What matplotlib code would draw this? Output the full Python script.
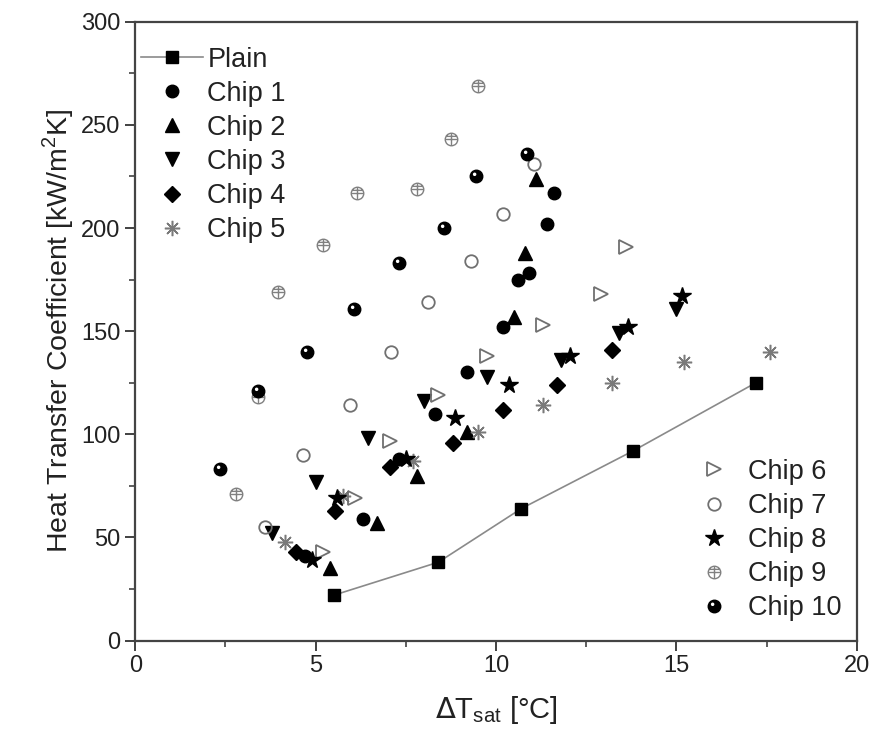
import matplotlib.pyplot as plt
import numpy as np
from matplotlib.path import Path
from matplotlib.legend_handler import HandlerTuple

plt.rcParams['font.family'] = ['Liberation Sans', 'DejaVu Sans']

# data (dT_sat in degC, h in kW/m2K)
plain_x = [5.5, 8.4, 10.7, 13.8, 17.2]
plain_y = [22, 38, 64, 92, 125]

chip1_x = [4.7, 6.3, 7.3, 8.3, 9.2, 10.2, 10.6, 10.9, 11.4, 11.6]
chip1_y = [41, 59, 88, 110, 130, 152, 175, 178, 202, 217]
chip2_x = [5.4, 6.7, 7.8, 9.2, 10.5, 10.8, 11.1]
chip2_y = [35, 57, 80, 101, 157, 188, 224]
chip3_x = [3.8, 5.0, 6.45, 8.0, 9.75, 11.8, 13.4, 15.0]
chip3_y = [52, 77, 98, 116, 128, 136, 149, 161]
chip4_x = [4.45, 5.55, 7.05, 8.8, 10.2, 11.7, 13.2]
chip4_y = [43, 63, 84, 96, 112, 124, 141]
chip5_x = [4.15, 5.75, 7.7, 9.5, 11.3, 13.2, 15.2, 17.6]
chip5_y = [48, 70, 87, 101, 114, 125, 135, 140]
chip6_x = [5.2, 6.1, 7.05, 8.4, 9.75, 11.3, 12.9, 13.6]
chip6_y = [43, 69, 97, 119, 138, 153, 168, 191]
chip7_x = [3.6, 4.65, 5.95, 7.1, 8.1, 9.3, 10.2, 11.05]
chip7_y = [55, 90, 114, 140, 164, 184, 207, 231]
chip8_x = [4.9, 5.6, 7.5, 8.85, 10.35, 12.05, 13.65, 15.15]
chip8_y = [39, 69, 88, 108, 124, 138, 152, 167]
chip9_x = [2.8, 3.4, 3.95, 5.2, 6.15, 7.8, 8.75, 9.5]
chip9_y = [71, 118, 169, 192, 217, 219, 243, 269]
chip10_x = [2.35, 3.4, 4.75, 6.05, 7.3, 8.55, 9.45, 10.85]
chip10_y = [83, 121, 140, 161, 183, 200, 225, 236]

# circle with cross, for chip 9
circ = Path.unit_circle()
cross = Path([(-1, 0), (1, 0), (0, -1), (0, 1), (-0.85, 0.5), (0.85, 0.5)],
             [Path.MOVETO, Path.LINETO, Path.MOVETO, Path.LINETO, Path.MOVETO, Path.LINETO])
globe = Path.make_compound_path(circ, cross)

# small off-centre highlight for chip 10
hl = Path.unit_circle()
hl = Path(hl.vertices * 0.28 + np.array([-0.3, 0.35]), hl.codes)
corner = Path([(-1, -1), (1, 1)], [Path.MOVETO, Path.MOVETO])
highlight = Path.make_compound_path(corner, hl)

fig, ax = plt.subplots(figsize=(8.78, 7.51), dpi=100)
fig.subplots_adjust(left=0.154, right=0.976, bottom=0.147, top=0.971)

ms = 9
p0, = ax.plot(plain_x, plain_y, color='#8a8a8a', lw=1.2, marker='s', ms=ms,
              mfc='black', mec='black', label='Plain')
h1, = ax.plot(chip1_x, chip1_y, ls='none', marker='o', ms=ms, color='black', label='Chip 1')
h2, = ax.plot(chip2_x, chip2_y, ls='none', marker='^', ms=ms + 1, color='black', label='Chip 2')
h3, = ax.plot(chip3_x, chip3_y, ls='none', marker='v', ms=ms + 1, color='black', label='Chip 3')
h4, = ax.plot(chip4_x, chip4_y, ls='none', marker='D', ms=ms - 1, color='black', label='Chip 4')
h5, = ax.plot(chip5_x, chip5_y, ls='none', marker=(8, 2, 0), ms=ms + 2, mew=1.1,
              color='#7a7a7a', label='Chip 5')
h6, = ax.plot(chip6_x, chip6_y, ls='none', marker='>', ms=ms + 1, mfc='none',
              mec='#707070', mew=1.3, label='Chip 6')
h7, = ax.plot(chip7_x, chip7_y, ls='none', marker='o', ms=ms, mfc='none',
              mec='#707070', mew=1.3, label='Chip 7')
h8, = ax.plot(chip8_x, chip8_y, ls='none', marker='*', ms=ms + 4, color='black', label='Chip 8')
h9, = ax.plot(chip9_x, chip9_y, ls='none', marker=globe, ms=ms, mfc='none',
              mec='#808080', mew=1.0, label='Chip 9')
h10, = ax.plot(chip10_x, chip10_y, ls='none', marker='o', ms=ms, color='black', label='Chip 10')
h10b, = ax.plot(chip10_x, chip10_y, ls='none', marker=highlight, ms=ms, mfc='white',
                mec='none', label='_nolegend_')

ax.set_xlim(0, 20)
ax.set_ylim(0, 300)
ax.set_xticks([0, 5, 10, 15, 20])
ax.set_yticks([0, 50, 100, 150, 200, 250, 300])
ax.set_xticks(np.arange(2.5, 20, 5), minor=True)
ax.set_yticks(np.arange(25, 300, 50), minor=True)
ax.tick_params(which='major', direction='out', length=7, width=1.3, labelsize=17,
               colors='#333333', labelcolor='#222222')
ax.tick_params(which='minor', direction='out', length=4, width=1.1, colors='#333333')
for s in ax.spines.values():
    s.set_linewidth(1.6)
    s.set_color('#444444')

ax.set_xlabel(r'$\Delta$T$_{\mathregular{sat}}$ [°C]', fontsize=21, color='#222222', labelpad=12)
ax.set_ylabel(r'Heat Transfer Coefficient [kW/m$^\mathregular{2}$K]', fontsize=20.5,
              color='#222222', labelpad=4)

fs = 19.5
leg1 = ax.legend([p0, h1, h2, h3, h4, h5], ['Plain', 'Chip 1', 'Chip 2', 'Chip 3', 'Chip 4', 'Chip 5'],
                 loc='upper left', bbox_to_anchor=(0.008, 0.96), frameon=False, fontsize=fs,
                 borderaxespad=0, borderpad=0, labelspacing=0.3, handlelength=2.3,
                 handletextpad=0.15, labelcolor='#222222')
ax.add_artist(leg1)
ax.legend([h6, h7, h8, h9, (h10, h10b)], ['Chip 6', 'Chip 7', 'Chip 8', 'Chip 9', 'Chip 10'],
          handler_map={tuple: HandlerTuple(ndivide=1, pad=0)},
          loc='lower right', bbox_to_anchor=(0.979, 0.031), frameon=False, fontsize=fs,
          borderaxespad=0, borderpad=0, labelspacing=0.3, handlelength=2.0,
          handletextpad=0.25, labelcolor='#222222')

fig.savefig('out.png', dpi=100)
